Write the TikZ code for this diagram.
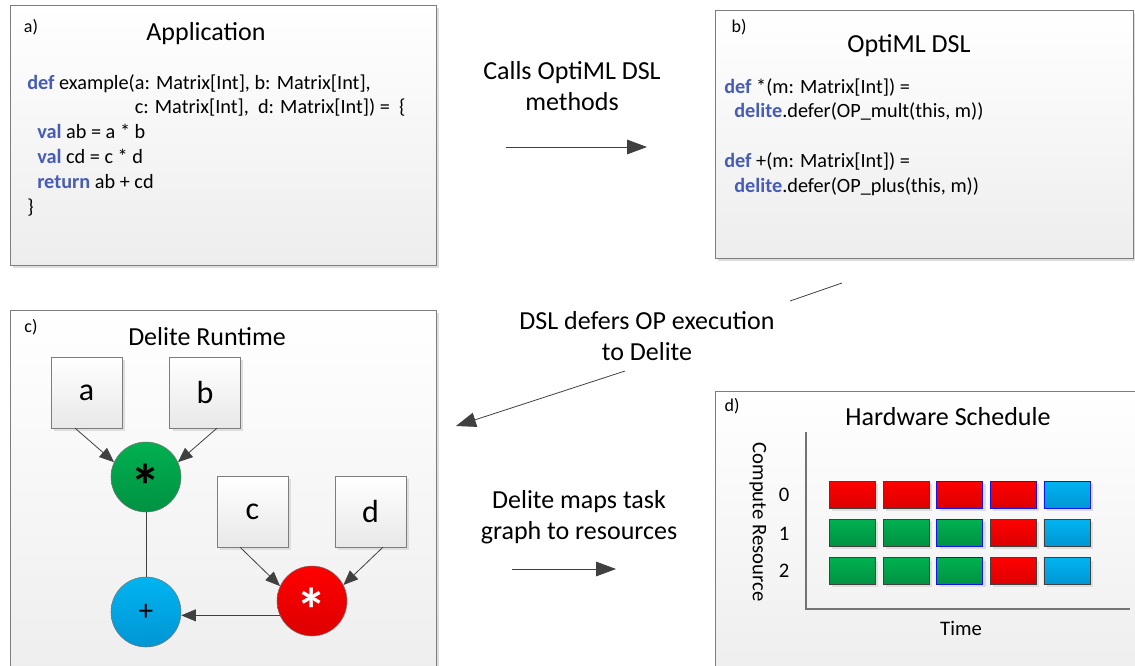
\documentclass[tikz,border=0pt]{standalone}
\usepackage{fontspec}
\setmainfont{Carlito}
\usetikzlibrary{arrows.meta, positioning, shadows}
\definecolor{kwblue}{RGB}{70,92,182}
\definecolor{linegray}{RGB}{64,64,64}
\definecolor{framegray}{RGB}{125,125,125}
\definecolor{opgreenA}{RGB}{0,176,80}
\definecolor{opgreenB}{RGB}{0,146,66}
\definecolor{opredA}{RGB}{255,0,0}
\definecolor{opredB}{RGB}{220,0,0}
\definecolor{opblueA}{RGB}{0,180,240}
\definecolor{opblueB}{RGB}{0,150,212}
\definecolor{taskblue}{RGB}{20,20,235}
\newcommand{\kw}[1]{{\bfseries\color{kwblue}#1}}
\newcommand{\bigstar}{\scalebox{1.9}{\raisebox{-0.5em}[0pt][0pt]{\bfseries *}}}

\tikzset{
  shadowed/.style={general shadow={shadow xshift=2.2pt, shadow yshift=-2.2pt, fill=black!13}},
  panel/.style={draw=framegray, top color=white, bottom color=black!7, shadowed},
  paneltag/.style={font=\fontsize{13.5}{16}\selectfont},
  paneltitle/.style={anchor=base, font=\fontsize{19.5}{23}\selectfont},
  code/.style={anchor=north west, align=left, inner sep=0pt, font=\fontsize{15.2}{18.6}\selectfont},
  steplabel/.style={align=center, font=\fontsize{19.5}{23.5}\selectfont},
  bigarrow/.style={draw=linegray, line width=0.6pt, -{Triangle[length=15pt, width=11pt]}},
  thinline/.style={draw=linegray, line width=0.6pt},
  varbox/.style={draw=framegray, top color=white, bottom color=black!9, minimum size=53pt, inner sep=0pt, font=\fontsize{24}{26}\selectfont, shadowed},
  opnode/.style={circle, draw=black!55, minimum size=52.5pt, inner sep=0pt},
  greenop/.style={opnode, top color=opgreenA, bottom color=opgreenB},
  redop/.style={opnode, top color=opredA, bottom color=opredB},
  blueop/.style={opnode, top color=opblueA, bottom color=opblueB},
  flow/.style={draw=linegray, line width=0.6pt, -{Triangle[length=11pt, width=9pt]}},
  axisline/.style={draw=black!55, line width=0.8pt},
  task/.style={minimum width=34.5pt, minimum height=20pt, inner sep=0pt, draw=linegray, shadowed},
  tred/.style={task, top color=opredA, bottom color=opredB},
  tgreen/.style={task, top color=opgreenA, bottom color=opgreenB},
  tblue/.style={task, top color=opblueA, bottom color=opblueB},
  tredb/.style={tred, draw=taskblue},
  tgreenb/.style={tgreen, draw=taskblue},
  tblueb/.style={tblue, draw=taskblue},
  axislabel/.style={font=\fontsize{15.5}{18}\selectfont}
}

\begin{document}
\begin{tikzpicture}[x=0.75pt, y=-0.75pt]
  \useasboundingbox (0,0) rectangle (1135,665);

  % panels
  \node[panel, minimum width=319.5pt, minimum height=195pt] (pa) at (223,135) {};
  \node[panel, minimum width=313.5pt, minimum height=186pt] (pb) at (924,134) {};
  \node[panel, minimum width=319.5pt, minimum height=285pt] (pc) at (223,500) {};
  \node[panel, minimum width=333.75pt, minimum height=224.25pt] (pd) at (937.5,540.5) {};

  % a) application
  \node[paneltag] (taga) at (31,27) {a)};
  \node[paneltitle] (titlea) at (206,40) {Application};
  \node[code] (appcode) at (27,74) {\kw{def} example(a: Matrix[Int], b: Matrix[Int],\\
    \phantom{\kw{def} example(}c: Matrix[Int],\ \ d: Matrix[Int]) =\ \ \{\\
    \hspace*{7.5pt}\kw{val} ab = a * b\\
    \hspace*{7.5pt}\kw{val} cd = c * d\\
    \hspace*{7.5pt}\kw{return} ab + cd\\
    \}};

  % b) DSL
  \node[paneltag] (tagb) at (739,27) {b)};
  \node[paneltitle] (titleb) at (909,52) {OptiML DSL};
  \node[code] (dslcode) at (724,78) {\kw{def} *(m: Matrix[Int]) =\\
    \hspace*{7.5pt}\kw{delite}.defer(OP\_mult(this, m))\\[18.6pt]
    \kw{def} +(m: Matrix[Int]) =\\
    \hspace*{7.5pt}\kw{delite}.defer(OP\_plus(this, m))};

  % c) runtime graph
  \node[paneltag] (tagc) at (31,327) {c)};
  \node[paneltitle] (titlec) at (207,345) {Delite Runtime};
  \node[varbox] (va) at (86.5,392.5) {a};
  \node[varbox] (vb) at (205,392.5) {b};
  \node[varbox] (vc) at (252.5,511.5) {c};
  \node[varbox] (vd) at (370.5,511.5) {d};
  \node[greenop, font=\fontsize{24}{24}\selectfont] (mul1) at (146,477) {\bigstar};
  \node[redop, font=\fontsize{24}{24}\selectfont, text=white] (mul2) at (312,601) {\bigstar};
  \node[blueop, font=\fontsize{22}{24}\selectfont] (add) at (146,612) {+};

  \draw[flow] ([xshift=-8.6pt]va.south) -- (mul1.155);
  \draw[flow] ([xshift=9pt]vb.south) -- (mul1.25);
  \draw[flow] ([xshift=-9.4pt]vc.south) -- (mul2.155);
  \draw[flow] ([xshift=9.4pt]vd.south) -- (mul2.27);
  \draw[thinline] (mul1) -- (add);
  \draw[flow] (mul2.204) -- (mul2.204 -| add.east);

  % d) schedule
  \node[paneltag] (tagd) at (732,406) {d)};
  \node[paneltitle] (titled) at (948,425) {Hardware Schedule};
  \draw[axisline] (806,432) -- (806,609) -- (1130,609);
  \node[axislabel, rotate=-90] (resaxis) at (758,522) {Compute Resource};
  \node[axislabel] (timeaxis) at (961,628) {Time};
  \foreach \r/\yy in {0/494.5, 1/534, 2/571}
    \node[axislabel] (row\r) at (784,\yy) {\r};
  \foreach \r/\c/\s in {0/0/tred, 0/1/tred, 0/2/tredb, 0/3/tredb, 0/4/tblueb,
                        1/0/tgreen, 1/1/tgreen, 1/2/tgreenb, 1/3/tred, 1/4/tblue,
                        2/0/tgreen, 2/1/tgreen, 2/2/tgreenb, 2/3/tred, 2/4/tblue}
    \node[\s] (t\r\c) at ({852.5+53.6*\c}, {494.5+38.25*\r}) {};

  % steps between the panels
  \node[steplabel] (calls) at (572,86) {Calls OptiML DSL\\methods};
  \coordinate (callsfrom) at (506,147);
  \coordinate (callsto) at (647,147);
  \draw[bigarrow] (callsfrom) -- (callsto);

  \node[steplabel] (defers) at (647,336) {DSL defers OP execution\\to Delite};
  \coordinate (defersfrom) at (842,283);
  \coordinate (defersgap) at (790,301);
  \coordinate (defersgo) at (625,371);
  \coordinate (defersto) at (456,426);
  \draw[thinline] (defersfrom) -- (defersgap);
  \draw[bigarrow] (defersgo) -- (defersto);

  \node[steplabel] (maps) at (579,517) {Delite maps task\\graph to resources};
  \coordinate (mapsfrom) at (512,569);
  \coordinate (mapsto) at (616,569);
  \draw[bigarrow] (mapsfrom) -- (mapsto);
\end{tikzpicture}
\end{document}
